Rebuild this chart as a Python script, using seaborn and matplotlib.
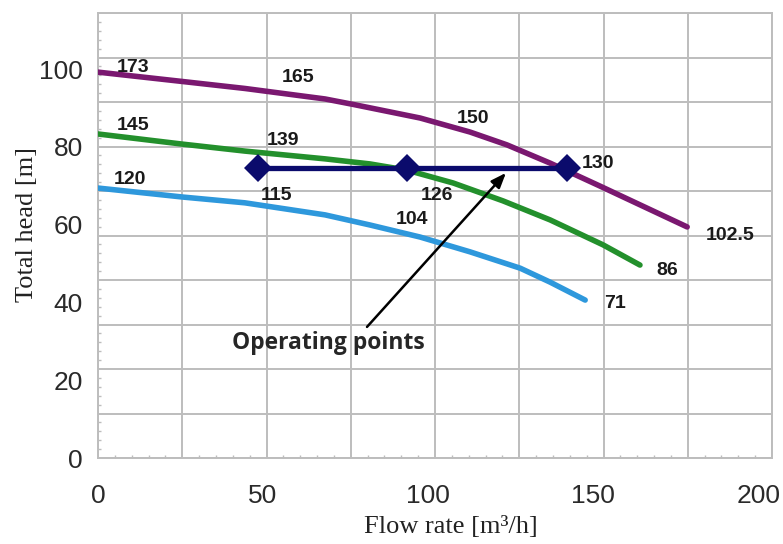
import numpy as np
import pandas as pd
import matplotlib
matplotlib.use("Agg")
import matplotlib.pyplot as plt
import seaborn as sns

# Pump characteristic curves (flow in m3/h, head in m) for three speeds
flow_high = [0, 25.5, 44.5, 68.8, 77.3, 97.6, 112.7, 123.9, 137.0, 152.1, 178.5]
head_high = [99.2, 96.8, 95.0, 92.3, 90.9, 87.4, 83.8, 80.5, 75.8, 69.9, 59.4]
flow_mid = [0, 25.5, 44.5, 68.8, 82.4, 93.6, 107.6, 122.7, 137.0, 153.0, 164.2]
head_mid = [83.3, 80.7, 78.9, 76.9, 75.6, 74.0, 70.7, 66.1, 61.2, 54.8, 49.6]
flow_low = [0, 25.5, 44.5, 68.8, 82.4, 97.6, 112.7, 127.9, 137.0, 147.6]
head_low = [69.4, 67.1, 65.6, 62.5, 59.9, 56.8, 53.0, 48.8, 45.2, 40.6]
curve_names = ["high", "mid", "low"]
curve_colors = ["#7a1870", "#23902c", "#2e98dc"]

# Operating points at constant head
op_flow = [48.5, 93.6, 142.1]
op_head = [74.6, 74.6, 74.6]

# Speed annotations along the curves
speed_text = ["173", "165", "150", "130", "102.5",
              "145", "139", "126", "86",
              "120", "115", "104", "71"]
speed_x = [10.6, 60.6, 113.6, 151.5, 191.5,
           10.6, 56.1, 102.7, 172.4,
           9.7, 54.2, 95.2, 156.7]
speed_y = [100.3, 97.7, 87.4, 75.8, 57.3,
           85.6, 81.7, 67.6, 48.3,
           71.5, 67.6, 61.2, 39.8]

x_ticks = [0, 50, 100, 150, 200]
y_ticks = [0, 20, 40, 60, 80, 100]
XMAX, YMAX = 204.2, 114.4

frames = []
for name, fx, hy in zip(curve_names, [flow_high, flow_mid, flow_low],
                        [head_high, head_mid, head_low]):
    frames.append(pd.DataFrame({"flow": fx, "head": hy, "curve": name}))
curves = pd.concat(frames, ignore_index=True)
ops = pd.DataFrame({"flow": op_flow, "head": op_head})

sns.set_style("white")
plt.rcParams["font.family"] = ["Liberation Sans", "DejaVu Sans"]

fig = plt.figure(figsize=(7.83, 5.44), dpi=100)
ax = fig.add_axes([98 / 783, 1 - 458 / 544, 674 / 783, 445 / 544])

grid_c = "#bdbdbd"
sns.lineplot(data=curves, x="flow", y="head", hue="curve",
             palette=dict(zip(curve_names, curve_colors)),
             hue_order=curve_names, lw=4.0, sort=False,
             solid_joinstyle="round", solid_capstyle="round",
             legend=False, ax=ax, zorder=3)
sns.lineplot(data=ops, x="flow", y="head", color="#0b0b6c", lw=3.8,
             marker="D", markersize=14, markeredgewidth=0,
             legend=False, ax=ax, zorder=4)

ax.set_xlim(0, XMAX)
ax.set_ylim(0, YMAX)

# grid lines with outward tick marks, fine inward ticks between them
ax.set_xticks(np.linspace(0, XMAX, 9))
ax.set_yticks(np.linspace(0, YMAX, 11))
ax.set_xticks(np.linspace(0, XMAX, 41), minor=True)
ax.set_yticks(np.linspace(0, YMAX, 51), minor=True)
ax.tick_params(which="major", direction="out", length=6, width=1.4,
               color=grid_c, labelbottom=False, labelleft=False)
ax.tick_params(which="minor", direction="in", length=2.5, width=1.0,
               color=grid_c)
ax.tick_params(which="minor", bottom=True, left=True)
ax.grid(True, which="major", color=grid_c, lw=1.4)
ax.set_axisbelow(True)
for sp in ax.spines.values():
    sp.set_color(grid_c)
    sp.set_linewidth(1.4)

# numeric labels on secondary axes
secx = ax.secondary_xaxis("bottom")
secx.set_xticks(x_ticks)
secx.set_xticklabels([str(v) for v in x_ticks])
secx.tick_params(length=0, pad=19, labelsize=19, labelcolor="#2a2a2a")
secx.spines["bottom"].set_visible(False)
secy = ax.secondary_yaxis("left")
secy.set_yticks(y_ticks)
secy.set_yticklabels([str(v) for v in y_ticks])
secy.tick_params(length=0, pad=11, labelsize=19, labelcolor="#2a2a2a")
secy.spines["left"].set_visible(False)

ax.set_xlabel("")
ax.set_ylabel("")
fig.text(451 / 783, 1 - 527 / 544, "Flow rate [m³/h]", ha="center",
         va="center", fontsize=19, family="Liberation Serif", color="#222222")
fig.text(27 / 783, 1 - 225 / 544, "Total head [m]", ha="center",
         va="center", rotation=90, fontsize=19, family="Liberation Serif",
         color="#222222")

for t, x, y in zip(speed_text, speed_x, speed_y):
    ax.text(x, y, t, ha="center", va="center", fontsize=14,
            fontweight="bold", color="#1a1a1a", zorder=5)

ax.text(69.7, 29.6, "Operating points", ha="center", va="center",
        fontsize=16.5, family="Open Sans", fontweight="bold",
        color="#262626", zorder=5)
ax.annotate("", xy=(123.6, 73.3), xytext=(81.5, 33.7),
            arrowprops=dict(arrowstyle="-|>,head_length=0.9,head_width=0.35",
                            color="black", lw=1.8, shrinkA=0, shrinkB=0),
            zorder=5)

fig.savefig("out.png", dpi=100)
